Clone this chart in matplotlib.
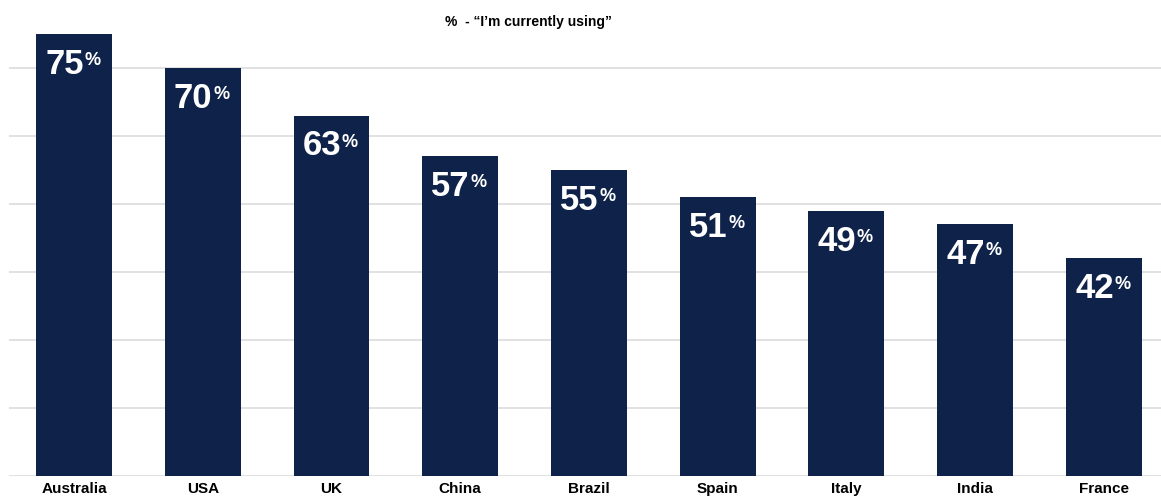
import numpy as np
import matplotlib
matplotlib.use("Agg")
from matplotlib import pyplot as plt
from matplotlib import font_manager

# Données
countries = ["Australia", "USA", "UK", "China", "Brazil", "Spain", "Italy", "India", "France"]
shares = [75, 70, 63, 57, 55, 51, 49, 47, 42]
title = "%  - \u201cI\u2019m currently using\u201d"

navy = "#0f2249"
grid_col = "#dcdcdc"

names = {f.name for f in font_manager.fontManager.ttflist}
fam = [f for f in ["Liberation Sans Narrow", "DejaVu Sans Condensed", "Liberation Sans"] if f in names]
fam.append("DejaVu Sans")
plt.rcParams["font.family"] = fam

fig = plt.figure(figsize=(11.61, 4.96), dpi=100)
ax = fig.add_axes([9 / 1161, 20 / 496, 1152 / 1161, 476 / 496])

x = np.arange(len(countries))
ax.bar(x, shares, width=0.59, color=navy, zorder=3)

ax.set_ylim(10, 80)
ax.set_xlim(-0.505, 8.443)
ax.set_yticks(np.arange(10, 80, 10))
ax.yaxis.grid(True, color=grid_col, linewidth=1.2, zorder=0)
ax.tick_params(axis="y", left=False, labelleft=False)
ax.tick_params(axis="x", length=0, pad=4)
ax.set_xticks(x)
ax.set_xticklabels(countries, fontsize=11, fontweight="bold", color="black")
for s in ax.spines.values():
    s.set_visible(False)

for xi, v in zip(x, shares):
    ax.annotate(str(v), (xi, v), xytext=(7, -10), textcoords="offset points",
                ha="right", va="top", color="white", fontsize=25, fontweight="bold", zorder=4)
    ax.annotate("%", (xi, v), xytext=(7.5, -13), textcoords="offset points",
                ha="left", va="top", color="white", fontsize=13, fontweight="bold", zorder=4)

fig.text(528 / 1161, 1 - 22 / 496, title, ha="center", va="center",
         fontsize=10, fontweight="bold", color="black")

fig.savefig("out.png", dpi=100)
